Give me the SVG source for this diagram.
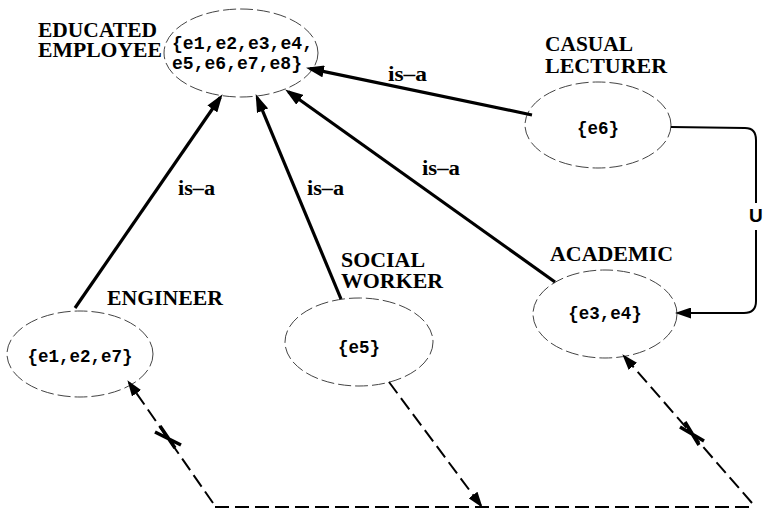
<svg xmlns="http://www.w3.org/2000/svg" width="763" height="510" viewBox="0 0 763 510">
<style>
.ell{fill:none;stroke:#444;stroke-width:1;stroke-dasharray:13 4}
.name{font-family:"Liberation Serif","Times New Roman",serif;font-weight:bold;font-size:20px;fill:#000}
.set{font-family:"Liberation Mono","Courier New",monospace;font-weight:bold;font-size:17.5px;fill:#000}
.isa{font-family:"Liberation Serif","Times New Roman",serif;font-weight:bold;font-size:20px;fill:#000}
.solid{fill:none;stroke:#000;stroke-width:3.2}
.dash{fill:none;stroke:#000;stroke-width:2;stroke-dasharray:14 6}
.thin{fill:none;stroke:#000;stroke-width:2}
.cross{fill:none;stroke:#000;stroke-width:3.5}
</style>
<defs>
<marker id="ah" markerUnits="userSpaceOnUse" markerWidth="18" markerHeight="12" refX="14" refY="6" orient="auto">
<path d="M0,0 L18,6 L0,12 z" fill="#000"/>
</marker>
<marker id="ahs" markerUnits="userSpaceOnUse" markerWidth="16" markerHeight="11" refX="13" refY="5.5" orient="auto">
<path d="M0,0 L16,5.5 L0,11 z" fill="#000"/>
</marker>
</defs>
<rect width="763" height="510" fill="#fff"/>

<g id="educated-employee">
<ellipse class="ell" cx="241" cy="53" rx="77" ry="44"/>
<text class="name" x="38" y="37" textLength="119" lengthAdjust="spacingAndGlyphs">EDUCATED</text>
<text class="name" x="38" y="57" textLength="124" lengthAdjust="spacingAndGlyphs">EMPLOYEE</text>
<text class="set" x="172" y="49" textLength="141" lengthAdjust="spacingAndGlyphs">{e1,e2,e3,e4,</text>
<text class="set" x="172" y="69" textLength="130" lengthAdjust="spacingAndGlyphs">e5,e6,e7,e8}</text>
</g>

<g id="casual-lecturer">
<ellipse class="ell" cx="598" cy="125" rx="73" ry="43"/>
<text class="name" x="545" y="51" textLength="88" lengthAdjust="spacingAndGlyphs">CASUAL</text>
<text class="name" x="545" y="73" textLength="122" lengthAdjust="spacingAndGlyphs">LECTURER</text>
<text class="set" x="598" y="134" text-anchor="middle">{e6}</text>
</g>

<g id="academic">
<ellipse class="ell" cx="605" cy="314" rx="72" ry="44"/>
<text class="name" x="550" y="261" textLength="123" lengthAdjust="spacingAndGlyphs">ACADEMIC</text>
<text class="set" x="605" y="319" text-anchor="middle">{e3,e4}</text>
</g>

<g id="social-worker">
<ellipse class="ell" cx="359" cy="342" rx="74" ry="44"/>
<text class="name" x="341" y="267" textLength="84" lengthAdjust="spacingAndGlyphs">SOCIAL</text>
<text class="name" x="341" y="288" textLength="102" lengthAdjust="spacingAndGlyphs">WORKER</text>
<text class="set" x="359" y="353" text-anchor="middle">{e5}</text>
</g>

<g id="engineer">
<ellipse class="ell" cx="80" cy="354" rx="73" ry="43"/>
<text class="name" x="107" y="305" textLength="116" lengthAdjust="spacingAndGlyphs">ENGINEER</text>
<text class="set" x="80" y="362" text-anchor="middle">{e1,e2,e7}</text>
</g>

<g id="connectors">
<path class="solid" d="M75,308 L220.3,97.5" marker-end="url(#ah)"/>
<path class="solid" d="M341,299 L257.2,97.8" marker-end="url(#ah)"/>
<path class="solid" d="M555,282 L288.4,91.7" marker-end="url(#ah)"/>
<path class="solid" d="M532,115 L309.9,68.6" marker-end="url(#ah)"/>
<text class="isa" x="178" y="195" textLength="37" lengthAdjust="spacingAndGlyphs">is–a</text>
<text class="isa" x="307" y="195" textLength="37" lengthAdjust="spacingAndGlyphs">is–a</text>
<text class="isa" x="422" y="175" textLength="38" lengthAdjust="spacingAndGlyphs">is–a</text>
<text class="isa" x="388" y="81" textLength="39" lengthAdjust="spacingAndGlyphs">is–a</text>

<path class="thin" d="M671,127 L745,128 Q756,128 756,140 L756,203"/>
<path class="thin" d="M756,230 L756,301 Q756,313 744,313 L678,313" marker-end="url(#ahs)"/>
<text x="749" y="222" style="font-family:'Liberation Sans',Arial,sans-serif;font-weight:bold;font-size:19px">U</text>

<path class="dash" d="M215,507 L752,507"/>
<path class="dash" d="M213,503 L129.1,382.6" marker-end="url(#ahs)"/>
<path class="dash" d="M389,382 L480.8,505.4" marker-end="url(#ahs)"/>
<path class="dash" d="M752,503 L624.3,356.5" marker-end="url(#ahs)"/>

<path class="cross" d="M155,432 L181,445 M160,426 L175,448"/>
<path class="cross" d="M680,427 L704,441 M685,422 L699,445"/>
</g>
</svg>
